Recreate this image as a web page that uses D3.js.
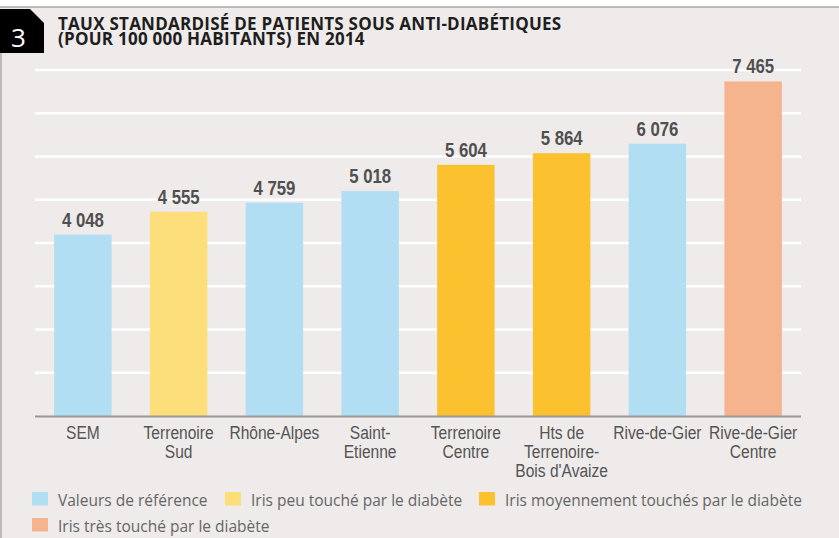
<!DOCTYPE html>
<html>
<head>
<meta charset="utf-8">
<script src="https://cdn.jsdelivr.net/npm/d3@7"></script>
<style>
  html, body { margin: 0; padding: 0; background: #eeebea; }
  svg { display: block; }
</style>
</head>
<body>
<div id="chart"></div>
<script>
    "use strict";

    // data
    var categories = [
        ["SEM"],
        ["Terrenoire", "Sud"],
        ["Rhône-Alpes"],
        ["Saint-", "Etienne"],
        ["Terrenoire", "Centre"],
        ["Hts de", "Terrenoire-", "Bois d'Avaize"],
        ["Rive-de-Gier"],
        ["Rive-de-Gier", "Centre"]
    ];
    var values = [4048, 4555, 4759, 5018, 5604, 5864, 6076, 7465];
    var groups = ["ref", "peu", "ref", "ref", "moyen", "moyen", "ref", "tres"];

    var legendKeys = ["ref", "peu", "moyen", "tres"];
    var legendLabels = [
        "Valeurs de référence",
        "Iris peu touché par le diabète",
        "Iris moyennement touchés par le diabète",
        "Iris très touché par le diabète"
    ];
    var groupColors = ["#b2def3", "#fcdf7a", "#fbc12f", "#f5b48d"];

    var titleLines = [
        "TAUX STANDARDISÉ DE PATIENTS SOUS ANTI-DIABÉTIQUES",
        "(POUR 100 000 HABITANTS) EN 2014"
    ];

    var width = 839, height = 538;
    var yMax = 7720;   // top gridline of the plot
    var nGrid = 8;
    var narrow = 0.8;  // condensed look, no narrow font installed

    var svg = d3.select("#chart").append("svg")
        .attr("width", width).attr("height", height);

    /* background, top strip and left border */
    svg.append("rect").attr("width", width).attr("height", height).attr("fill", "#eeebea");
    svg.append("rect").attr("width", width).attr("height", 7).attr("fill", "#ffffff");
    svg.append("line").attr("x1", 0).attr("x2", width).attr("y1", 7).attr("y2", 7)
        .attr("stroke", "#a9a7a5").attr("stroke-width", 1.5);
    svg.append("line").attr("x1", 1).attr("x2", 1).attr("y1", 53).attr("y2", height)
        .attr("stroke", "#bdbbba").attr("stroke-width", 2);

    /* number tag */
    svg.append("path")
        .attr("d", "M0,9 L30,9 L44,23 L44,53 L0,53 Z")
        .attr("fill", "#000");
    svg.append("text").attr("x", 18.5).attr("y", 46.5)
        .attr("text-anchor", "middle")
        .attr("font-family", "Open Sans, sans-serif").attr("font-size", 26)
        .attr("fill", "#fff").text("3");

    /* title */
    svg.append("g").selectAll("text").data(titleLines).join("text")
        .attr("x", 58).attr("y", function (d, i) { return 29.5 + i * 15.5; })
        .attr("font-family", "Open Sans, sans-serif").attr("font-weight", "bold")
        .attr("font-size", 17).attr("letter-spacing", 0.25).attr("fill", "#1e1e1e")
        .text(function (d) { return d; });

    var x = d3.scaleBand()
        .domain(d3.range(values.length))
        .range([35, 801])
        .paddingInner(0.4)
        .paddingOuter(0.2);

    var y = d3.scaleLinear().domain([0, yMax]).range([416, 70]);

    var color = d3.scaleOrdinal().domain(legendKeys).range(groupColors);

    /* gridlines */
    var gridVals = d3.range(1, nGrid + 1).map(function (i) { return i * yMax / nGrid; });
    svg.append("g").selectAll("line").data(gridVals).join("line")
        .attr("x1", 35).attr("x2", 801)
        .attr("y1", function (d) { return y(d); }).attr("y2", function (d) { return y(d); })
        .attr("stroke", "#ffffff").attr("stroke-width", 2.5);

    /* bars */
    svg.append("g").selectAll("rect").data(values).join("rect")
        .attr("x", function (d, i) { return x(i); })
        .attr("width", x.bandwidth())
        .attr("y", function (d) { return y(d); })
        .attr("height", function (d) { return y(0) - y(d); })
        .attr("fill", function (d, i) { return color(groups[i]); });

    /* baseline */
    svg.append("line").attr("x1", 35).attr("x2", 801)
        .attr("y1", y(0) + 0.5).attr("y2", y(0) + 0.5)
        .attr("stroke", "#9a9896").attr("stroke-width", 2);

    /* value labels */
    var fmt = function (v) { return d3.format(",")(v).replace(/,/g, " "); };
    svg.append("g").selectAll("g").data(values).join("g")
        .attr("transform", function (d, i) {
            return "translate(" + (x(i) + x.bandwidth() / 2) + "," + (y(d) - 8) + ") scale(" + narrow + ",1)";
        })
        .append("text")
        .attr("text-anchor", "middle")
        .attr("font-family", "Liberation Sans, Arial, sans-serif").attr("font-weight", "bold")
        .attr("font-size", 21).attr("fill", "#505050")
        .text(fmt);

    /* category labels, one text per line */
    svg.append("g").selectAll("g").data(categories).join("g")
        .attr("transform", function (d, i) {
            return "translate(" + (x(i) + x.bandwidth() / 2) + ",439) scale(" + 0.82 + ",1)";
        })
        .selectAll("text").data(function (d) { return d; }).join("text")
        .attr("y", function (d, j) { return j * 19; })
        .attr("text-anchor", "middle")
        .attr("font-family", "Liberation Sans, Arial, sans-serif")
        .attr("font-size", 19).attr("fill", "#555")
        .text(function (d) { return d; });

    /* legend */
    var legendPos = [[32, 492], [225, 492], [479, 492], [32, 518]];
    var leg = svg.append("g").selectAll("g").data(legendKeys).join("g")
        .attr("transform", function (d, i) {
            return "translate(" + legendPos[i][0] + "," + legendPos[i][1] + ")";
        });
    leg.append("rect").attr("width", 16).attr("height", 13.5)
        .attr("fill", function (d) { return color(d); });
    leg.append("text").attr("x", 26).attr("y", 13.5)
        .attr("font-family", "Open Sans, sans-serif")
        .attr("font-size", 15.5).attr("fill", "#666")
        .text(function (d, i) { return legendLabels[i]; });
</script>
</body>
</html>
